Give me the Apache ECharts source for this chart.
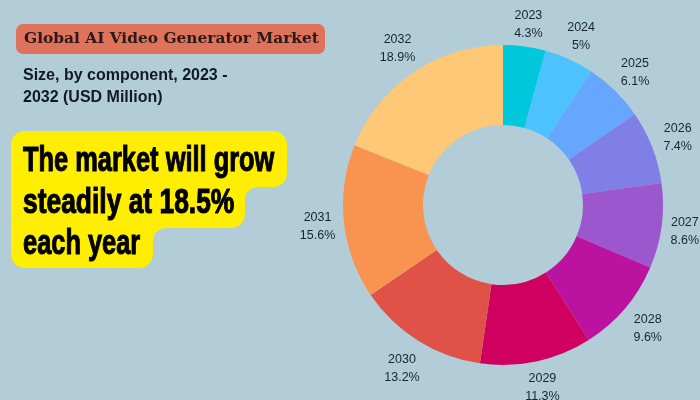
<!DOCTYPE html>
<html>
<head>
<meta charset="utf-8">
<style>
html, body { margin: 0; padding: 0; background: #b2ccd8; }
#chart { width: 700px; height: 400px; }
</style>
<script src="https://cdn.jsdelivr.net/npm/echarts@6/dist/echarts.min.js"></script>
</head>
<body>
<div id="chart"></div>
<script>
"use strict";

const years = ["2023", "2024", "2025", "2026", "2027", "2028", "2029", "2030", "2031", "2032"];
const shares = [4.3, 5, 6.1, 7.4, 8.6, 9.6, 11.3, 13.2, 15.6, 18.9];
const sliceColors = ["#00c8dc", "#4cc3ff", "#66a6ff", "#7f7fe6", "#9c57cf", "#bb129f", "#cf005f", "#e05247", "#f99350", "#ffc876"];
const titleText = "Global AI Video Generator Market";
const subtitleLines = ["Size, by component, 2023 -", "2032 (USD Million)"];
const calloutLines = ["The market will grow", "steadily at 18.5%", "each year"];

const bgColor = "#b2ccd8";
const calloutColor = "#ffee00";

// small label shifts, by year, where the reference sits off the common ring
const labelNudges = {
    "2023": [0, 6], "2024": [0, 3], "2025": [0, 2], "2026": [-1, 1], "2027": [-5, 2],
    "2028": [1, 2], "2029": [0, -2], "2030": [-1, 4], "2031": [2, 1]
};

const pieData = years.map((y, i) => ({
    name: y,
    value: shares[i],
    itemStyle: { color: sliceColors[i] }
}));

function headlineText(text, y, scaleX) {
    return {
        type: "text",
        x: 23,
        y: y,
        scaleX: scaleX,
        scaleY: 1.05,
        style: {
            text: text,
            fill: "#000",
            stroke: "#000",
            lineWidth: 1,
            font: "bold 33px 'Liberation Sans'",
            textVerticalAlign: "middle"
        }
    };
}

function calloutBox(x, y, width, height) {
    return { type: "rect", shape: { x: x, y: y, width: width, height: height, r: 14 }, style: { fill: calloutColor } };
}

// inner corner of the stepped box: yellow square with a background circle bitten out
function calloutFillet(x, y) {
    return [
        { type: "rect", shape: { x: x, y: y, width: 13, height: 13 }, style: { fill: calloutColor } },
        { type: "circle", shape: { cx: x + 13, cy: y + 13, r: 13 }, style: { fill: bgColor } }
    ];
}

let chart = echarts.init(document.getElementById("chart"), null, { renderer: "canvas" });

chart.setOption({
    backgroundColor: bgColor,
    animation: false,
    series: [
        {
            type: "pie",
            center: [503, 205],
            radius: [80, 160],
            startAngle: 90,
            silent: true,
            label: { show: false },
            labelLine: { show: false },
            data: pieData
        },
        {
            // transparent ring, only carries the centered labels
            type: "pie",
            center: [503, 205],
            radius: [184, 187],
            startAngle: 90,
            silent: true,
            itemStyle: { color: "transparent" },
            label: {
                show: true,
                position: "inside",
                formatter: p => `${p.name}\n${p.value}%`,
                color: "#1a2433",
                fontFamily: "Liberation Sans",
                fontSize: 12.5,
                lineHeight: 18
            },
            labelLine: { show: false },
            data: years.map((y, i) => ({
                name: y,
                value: shares[i],
                label: { offset: labelNudges[y] || [0, 0] }
            }))
        }
    ],
    graphic: [
        {
            type: "rect",
            shape: { x: 16, y: 24, width: 309, height: 30, r: 7 },
            style: { fill: "#df725a" }
        },
        {
            type: "text",
            x: 24,
            y: 39,
            style: { text: titleText, fill: "#2a1a1a", font: "bold 15.4px 'DejaVu Serif'", textVerticalAlign: "middle" }
        },
        {
            type: "text",
            x: 23,
            y: 76,
            style: { text: subtitleLines[0], fill: "#10182a", font: "bold 16px 'Liberation Sans'", textVerticalAlign: "middle" }
        },
        {
            type: "text",
            x: 23,
            y: 98,
            style: { text: subtitleLines[1], fill: "#10182a", font: "bold 16px 'Liberation Sans'", textVerticalAlign: "middle" }
        },
        calloutBox(11, 131, 276, 56),
        calloutBox(11, 165, 234, 63),
        calloutBox(11, 205, 142, 63),
        ...calloutFillet(245, 187),
        ...calloutFillet(153, 228),
        headlineText(calloutLines[0], 161, 0.77),
        headlineText(calloutLines[1], 203, 0.8),
        headlineText(calloutLines[2], 244, 0.77)
    ]
});
</script>
</body>
</html>
